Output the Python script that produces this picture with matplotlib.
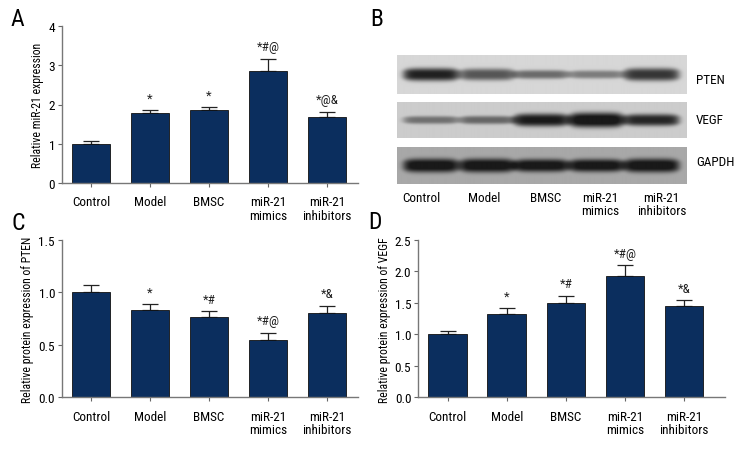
import numpy as np
import matplotlib
matplotlib.use("Agg")
import matplotlib.pyplot as plt
from matplotlib import font_manager

fam = "Liberation Sans"
for cand in ["Liberation Sans Narrow", "Roboto Condensed", "Open Sans Condensed", "Liberation Sans"]:
    try:
        font_manager.findfont(cand, fallback_to_default=False)
        fam = cand
        break
    except Exception:
        pass
plt.rcParams['font.family'] = [fam, 'DejaVu Sans']
NARROW = fam != "Liberation Sans"

groups = ["Control", "Model", "BMSC", "miR-21\nmimics", "miR-21\ninhibitors"]

# Panel A: relative miR-21 expression
mir21_mean = [1.00, 1.78, 1.86, 2.85, 1.69]
mir21_err = [0.06, 0.08, 0.08, 0.32, 0.12]
mir21_sig = ["", "*", "*", "*#@", "*@&"]

# Panel C: relative protein expression of PTEN
pten_mean = [1.00, 0.83, 0.76, 0.55, 0.805]
pten_err = [0.07, 0.06, 0.06, 0.065, 0.065]
pten_sig = ["", "*", "*#", "*#@", "*&"]

# Panel D: relative protein expression of VEGF
vegf_mean = [1.01, 1.32, 1.50, 1.92, 1.45]
vegf_err = [0.05, 0.10, 0.11, 0.18, 0.09]
vegf_sig = ["", "*", "*#", "*#@", "*&"]

# Panel B: western blot band strengths (0..1 darkness)
blot_proteins = ["PTEN", "VEGF", "GAPDH"]
blot_bands = {
    "PTEN": [0.85, 0.60, 0.50, 0.42, 0.75],
    "VEGF": [0.45, 0.50, 0.88, 0.97, 0.82],
    "GAPDH": [0.93, 0.93, 0.91, 0.91, 0.93],
}
blot_thick = {
    "PTEN": [6.5, 6.0, 4.5, 4.2, 6.5],
    "VEGF": [4.0, 4.2, 6.5, 7.5, 6.0],
    "GAPDH": [7.0, 7.0, 6.5, 6.5, 7.0],
}
blot_bg = {"PTEN": 0.84, "VEGF": 0.80, "GAPDH": 0.66}

BAR = "#0b2e5e"
W, H = 756, 456
fig = plt.figure(figsize=(W / 100, H / 100), dpi=100)

TICK_FS = 9.5 if NARROW else 8
YLAB_FS = 8.5 if NARROW else 7
ANN_FS = 9.5 if NARROW else 8


def fr(x0, y0, x1, y1):
    return [x0 / W, 1 - y1 / H, (x1 - x0) / W, (y1 - y0) / H]


def bar_panel(rect, means, errs, sigs, ylim, yticks, yfmt, ylabel, xlim):
    ax = fig.add_axes(rect)
    x = np.arange(len(means))
    ax.bar(x, means, width=0.65, color=BAR, edgecolor="#111111", linewidth=0.6, zorder=2)
    ax.errorbar(x, means, yerr=[np.zeros(len(errs)), errs], fmt="none",
                ecolor="#222222", elinewidth=0.9, capsize=5.5, capthick=0.9, zorder=1)
    for xi, m, e, s in zip(x, means, errs, sigs):
        if s:
            ax.annotate(s, (xi, m + e), xytext=(0, 4), textcoords="offset points",
                        ha="center", va="bottom", fontsize=ANN_FS, color="#222222")
    ax.set_ylim(*ylim)
    ax.set_xlim(*xlim)
    ax.set_yticks(yticks)
    ax.set_yticklabels([yfmt.format(v) for v in yticks])
    ax.set_xticks(x)
    ax.set_xticklabels(groups, fontsize=TICK_FS, linespacing=1.05)
    ax.tick_params(axis="y", labelsize=TICK_FS, length=3, width=0.8, color="#666666", pad=2)
    ax.tick_params(axis="x", length=3, width=0.8, color="#666666", pad=6)
    ax.set_ylabel(ylabel, fontsize=YLAB_FS, labelpad=3)
    for sp in ["top", "right"]:
        ax.spines[sp].set_visible(False)
    for sp in ["left", "bottom"]:
        ax.spines[sp].set_color("#777777")
        ax.spines[sp].set_linewidth(1.0)
    return ax


bar_panel(fr(62, 27, 358, 184), mir21_mean, mir21_err, mir21_sig, (0, 4),
          [0, 1, 2, 3, 4], "{:g}", "Relative miR-21 expression", (-0.49, 4.525))
bar_panel(fr(62, 240.7, 358, 398.3), pten_mean, pten_err, pten_sig, (0, 1.5),
          [0, 0.5, 1.0, 1.5], "{:.1f}", "Relative protein expression of PTEN", (-0.49, 4.525))
bar_panel(fr(418.3, 241, 725, 398.3), vegf_mean, vegf_err, vegf_sig, (0, 2.5),
          [0, 0.5, 1.0, 1.5, 2.0, 2.5], "{:.1f}", "Relative protein expression of VEGF", (-0.494, 4.69))

# Panel B: blot
bx0, bx1 = 396.7, 686
axb = fig.add_axes(fr(bx0, 56, bx1, 185))
axb.set_xlim(0, bx1 - bx0)
axb.set_ylim(185 - 56, 0)
axb.axis("off")
strips = {"PTEN": (0, 39), "VEGF": (47, 83), "GAPDH": (92, 129)}
lane_c = [34, 90, 144, 199, 254]
lane_hw = 28
for p in blot_proteins:
    y0, y1 = strips[p]
    nx, ny = int(bx1 - bx0) * 3, int(y1 - y0) * 3
    xs = np.linspace(0, bx1 - bx0, nx)
    ys = np.linspace(y0, y1, ny)
    X, Y = np.meshgrid(xs, ys)
    img = np.full_like(X, blot_bg[p])
    yc = (y0 + y1) / 2
    for c, d, t in zip(lane_c, blot_bands[p], blot_thick[p]):
        u = np.abs((X - c) / lane_hw)
        hx = np.exp(-u ** 8)
        tt = t * np.sqrt(np.clip(1 - 0.35 * u ** 4, 0.2, 1))
        vy = np.exp(-np.abs((Y - yc) / tt) ** 3)
        img = img - blot_bg[p] * d * hx * vy
    img = np.clip(img, 0.1, 1)
    axb.imshow(img, cmap="gray", vmin=0, vmax=1, extent=(0, bx1 - bx0, y1, y0),
               aspect="auto", interpolation="bilinear")

label_y = {"PTEN": 80, "VEGF": 121, "GAPDH": 163}
for p in blot_proteins:
    fig.text(696 / W, 1 - label_y[p] / H, p, fontsize=TICK_FS, ha="left", va="center")
lane_lx = [421.7, 484, 545.7, 600, 661.7]
for lx, g in zip(lane_lx, groups):
    fig.text(lx / W, 1 - 192 / H, g, fontsize=TICK_FS, ha="center", va="top",
             linespacing=1.05)

for lab, (lx, ly) in zip("ABCD", [(17.5, 20), (377, 20), (18, 224), (375, 223)]):
    fig.text(lx / W, 1 - ly / H, lab, fontsize=17, ha="center", va="center")

fig.savefig("out.png", dpi=100)
